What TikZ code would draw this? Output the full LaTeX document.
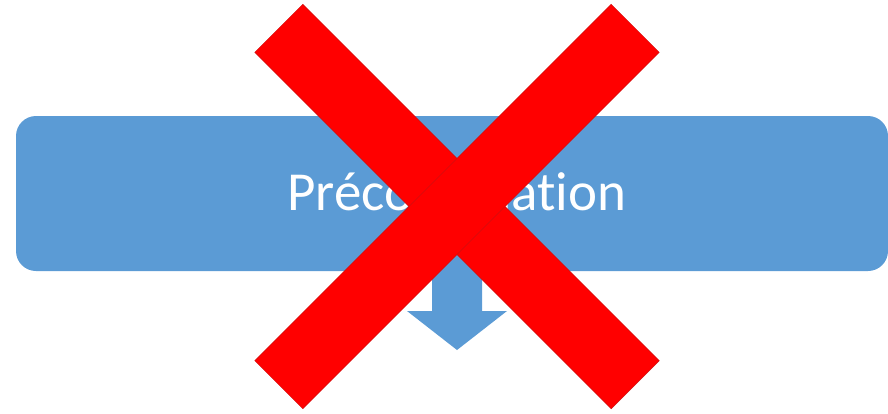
\documentclass[tikz,border=0pt]{standalone}
\usepackage{fontspec}
\setmainfont{Carlito}[Ligatures={NoCommon}]
\usetikzlibrary{positioning, calc}
\definecolor{stepBlue}{HTML}{5B9BD5}
\definecolor{crossRed}{HTML}{FF0000}
\definecolor{crossEdge}{HTML}{D01010}

\begin{document}
\begin{tikzpicture}[x=1pt, y=-1pt,
	crossbar/.style={fill=crossRed, draw=crossEdge, line width=0.5pt,
		minimum width=504pt, minimum height=68pt, inner sep=0pt}]
	\useasboundingbox (0,0) rectangle (888,413);
	% etape
	\node[fill=stepBlue, rounded corners=20pt, minimum width=872pt,
	minimum height=155pt, inner sep=0pt] (precomp) at (452,193.5) {};
	\node[text=white, font=\fontsize{55}{60}\selectfont, inner sep=0pt,
	anchor=base] (title) at (457,210) {Précompilation};
	% fleche vers le bas
	\coordinate (tip) at (457,350);
	\fill[stepBlue] (432,270) -- (482,270) -- (482,311) -- (507,311)
		-- (tip) -- (407,311) -- (432,311) -- cycle;
	% croix
	\node[crossbar, rotate=-45] (barA) at (457,206.5) {};
	\node[crossbar, rotate=45] (barB) at (457,206.5) {};
\end{tikzpicture}
\end{document}
